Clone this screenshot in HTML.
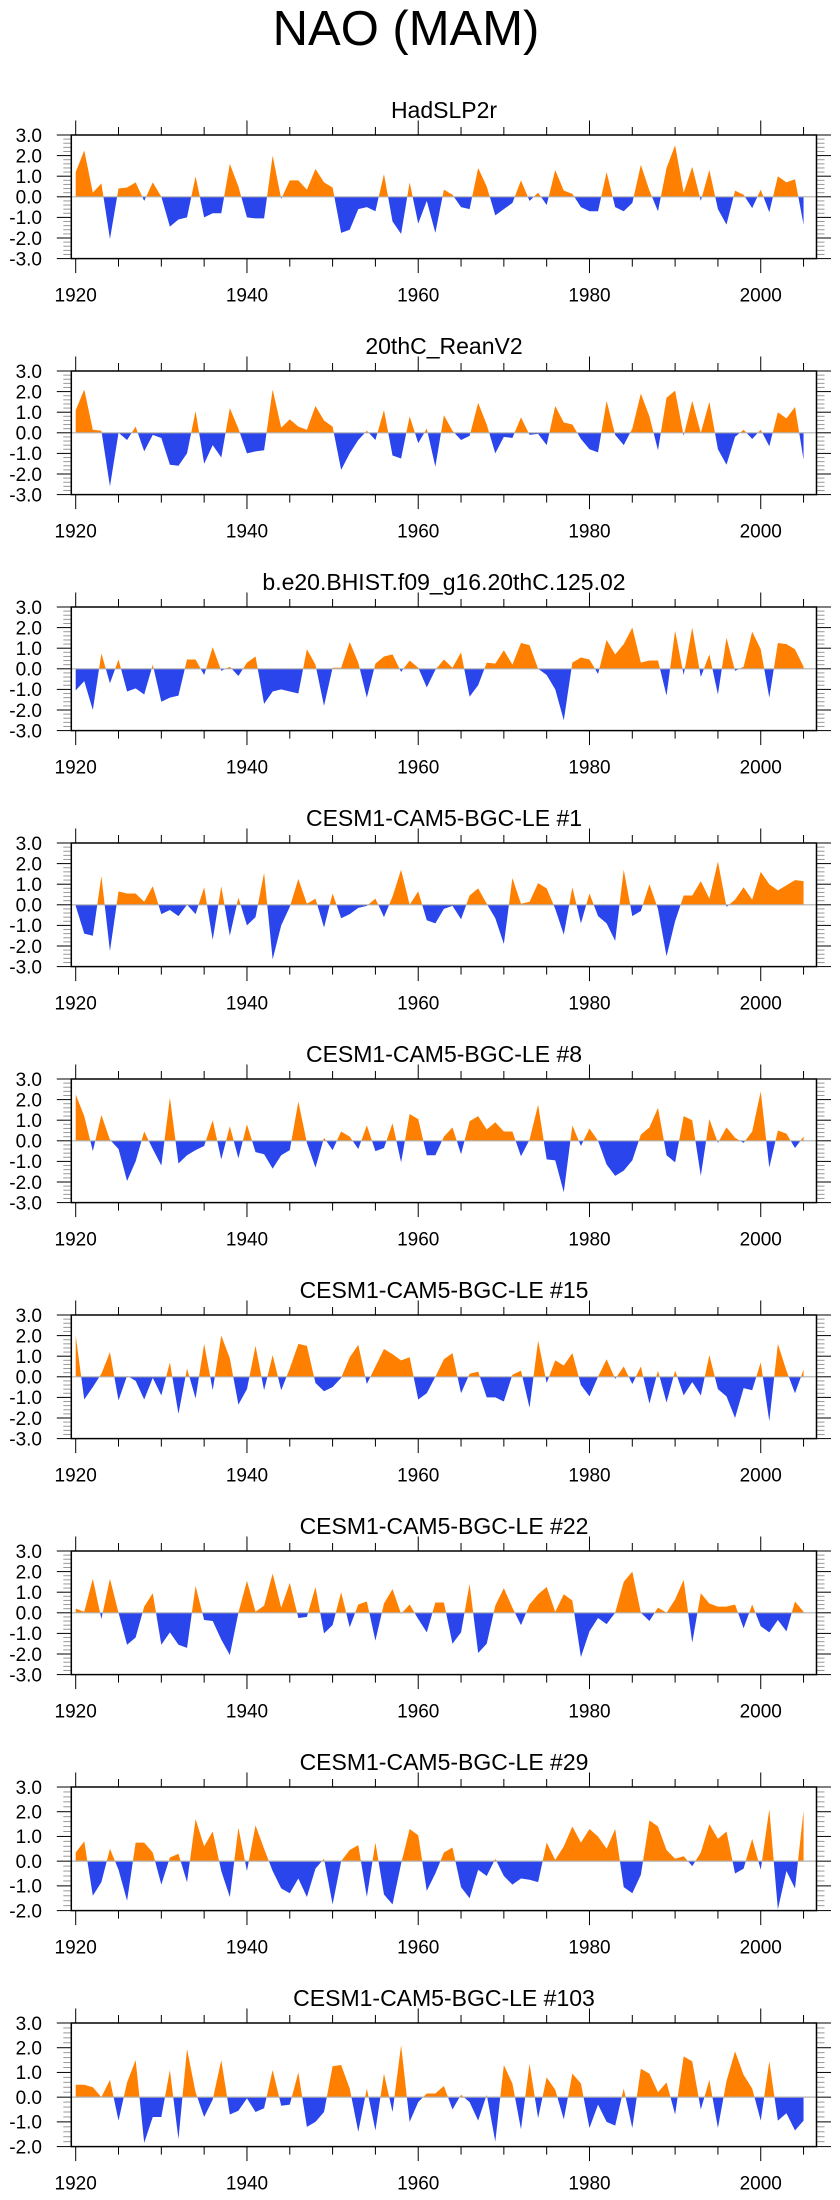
<!DOCTYPE html>
<html><head><meta charset="utf-8"><style>
body{margin:0;background:#fff;}
svg{display:block;font-family:"Liberation Sans",Arial,sans-serif;}
</style></head><body>
<svg id="fig" width="840" height="2200" viewBox="0 0 840 2200">
<text x="406" y="45" font-size="49" text-anchor="middle">NAO (MAM)</text>
</svg>
<script>
const years = [];
for (let y = 1920; y <= 2005; y++) years.push(y);
const titles = ["HadSLP2r","20thC_ReanV2","b.e20.BHIST.f09_g16.20thC.125.02","CESM1-CAM5-BGC-LE #1","CESM1-CAM5-BGC-LE #8","CESM1-CAM5-BGC-LE #15","CESM1-CAM5-BGC-LE #22","CESM1-CAM5-BGC-LE #29","CESM1-CAM5-BGC-LE #103"];
const yMins = [-3,-3,-3,-3,-3,-3,-3,-2,-2];
const yMax = 3;
const xTickLabels = [1920,1940,1960,1980,2000];
const s1 = [1.2,2.25,0.2,0.65,-2.05,0.4,0.45,0.7,-0.2,0.7,0.0,-1.45,-1.1,-1.0,1.0,-1.0,-0.8,-0.8,1.6,0.5,-1.0,-1.05,-1.05,2.0,-0.1,0.8,0.8,0.35,1.35,0.7,0.45,-1.75,-1.6,-0.6,-0.5,-0.7,1.1,-1.2,-1.8,0.7,-1.3,-0.2,-1.75,0.35,0.1,-0.5,-0.6,1.4,0.5,-0.9,-0.6,-0.3,0.8,-0.2,0.2,-0.4,1.3,0.3,0.15,-0.5,-0.7,-0.7,1.2,-0.5,-0.7,-0.3,1.55,0.3,-0.7,1.4,2.5,0.2,1.45,-0.2,1.3,-0.6,-1.35,0.3,0.1,-0.55,0.35,-0.75,1.0,0.7,0.85,-1.35];
const s2 = [1.1,2.1,0.15,0.1,-2.6,0,-0.35,0.3,-0.9,-0.1,-0.25,-1.55,-1.6,-1.0,1.05,-1.5,-0.6,-1.2,1.2,0.2,-1.0,-0.9,-0.85,2.1,0.25,0.65,0.3,0.15,1.3,0.6,0.3,-1.8,-1.0,-0.35,0.1,-0.35,1.1,-1.1,-1.25,0.8,-0.5,0.2,-1.65,0.85,0.1,-0.35,-0.15,1.45,0.4,-1.0,-0.2,-0.25,0.75,-0.1,-0.05,-0.6,1.3,0.5,0.4,-0.3,-0.8,-0.95,1.55,-0.1,-0.6,0.2,1.9,0.8,-0.85,1.7,2.05,-0.15,1.55,0,1.5,-0.8,-1.55,-0.2,0.15,-0.3,0.15,-0.65,1.0,0.7,1.25,-1.3];
const s3 = [-1.05,-0.6,-2.0,0.75,-0.7,0.45,-1.1,-0.95,-1.25,0.2,-1.6,-1.4,-1.3,0.45,0.45,-0.3,1.05,-0.1,0.1,-0.35,0.3,0.6,-1.7,-1.1,-1.0,-1.1,-1.2,0.95,0.2,-1.8,0.05,0.05,1.3,0.3,-1.4,0.25,0.6,0.7,-0.15,0.4,0.05,-0.9,-0.05,0.45,0.05,0.8,-1.35,-0.8,0.3,0.25,0.9,0.2,1.25,1.15,0.0,-0.3,-1.0,-2.5,0.3,0.55,0.45,-0.25,1.4,0.7,1.2,2.0,0.3,0.4,0.4,-1.3,1.85,-0.3,2.0,-0.4,0.7,-1.25,1.5,-0.1,0.1,1.8,0.95,-1.4,1.25,1.2,0.95,0.1];
const s4 = [-0.05,-1.4,-1.5,1.4,-2.25,0.65,0.55,0.55,0.15,0.9,-0.45,-0.25,-0.55,0.0,-0.45,0.85,-1.7,0.9,-1.5,0.35,-1.0,-0.6,1.55,-2.65,-1.0,-0.1,1.25,0.05,0.3,-1.1,0.55,-0.65,-0.45,-0.15,-0.05,0.3,-0.6,0.4,1.7,0.0,0.65,-0.75,-0.9,-0.2,-0.05,-0.7,0.45,0.8,0.05,-0.65,-1.9,1.3,0.05,0.15,1.05,0.8,-0.2,-1.45,0.85,-0.9,0.55,-0.55,-0.9,-1.75,1.7,-0.55,-0.3,1.0,-0.2,-2.5,-0.8,0.45,0.45,1.15,0.3,2.1,-0.1,0.25,0.85,0.25,1.6,1.0,0.7,0.95,1.2,1.15];
const s5 = [2.25,1.2,-0.5,1.25,0.05,-0.4,-1.95,-1.0,0.45,-0.4,-1.2,2.1,-1.1,-0.7,-0.45,-0.25,1.0,-0.9,0.7,-0.85,0.8,-0.55,-0.65,-1.35,-0.7,-0.45,1.9,-0.1,-1.3,0.15,-0.45,0.45,0.2,-0.4,0.75,-0.5,-0.35,0.85,-1.05,1.3,1.05,-0.7,-0.7,0.2,0.65,-0.65,0.95,1.2,0.55,0.9,0.45,0.45,-0.75,0.05,1.75,-0.9,-0.95,-2.5,0.75,-0.25,0.6,0.0,-1.15,-1.7,-1.45,-0.95,0.3,0.65,1.6,-0.7,-1.05,1.2,1.0,-1.7,1.05,-0.1,0.65,0.15,-0.1,0.45,2.4,-1.3,0.5,0.35,-0.35,0.2];
const s6 = [2.0,-1.1,-0.5,0.15,1.2,-1.15,0.05,-0.2,-1.1,-0.05,-0.9,0.7,-1.8,0.4,-1.05,1.6,-0.65,2.0,0.9,-1.35,-0.6,1.5,-0.65,1.05,-0.65,0.4,1.6,1.5,-0.3,-0.7,-0.5,-0.05,0.95,1.55,-0.35,0.5,1.35,1.1,0.8,0.95,-1.1,-0.8,0.0,0.85,1.15,-0.8,0.15,0.25,-1.0,-1.0,-1.2,0.1,0.3,-1.5,1.75,-0.3,0.8,0.55,1.15,-0.4,-0.95,0.0,0.85,-0.1,0.5,-0.35,0.5,-1.3,0.3,-1.25,0.3,-0.9,-0.25,-0.9,1.05,-0.6,-0.95,-2.0,-0.55,-0.65,0.7,-2.15,1.6,0.3,-0.8,0.35];
const s7 = [0.2,0.05,1.65,-0.3,1.65,0.0,-1.55,-1.2,0.3,0.95,-1.55,-0.95,-1.55,-1.7,1.3,-0.35,-0.4,-1.3,-2.05,0.0,1.55,0.05,0.35,1.9,0.25,1.45,-0.25,-0.2,1.25,-1.0,-0.6,1.0,-0.7,0.4,0.55,-1.35,0.45,1.15,-0.05,0.4,-0.3,-0.95,0.5,0.5,-1.5,-0.95,1.4,-1.95,-1.5,0.35,1.2,0.25,-0.6,0.4,0.9,1.25,0.05,0.9,0.6,-2.15,-0.9,-0.25,-0.55,0.0,1.5,2.0,0.0,-0.4,0.25,0.0,0.65,1.6,-1.45,0.95,0.45,0.3,0.3,0.4,-0.75,0.4,-0.65,-0.95,-0.35,-0.9,0.55,0.05];
const s8 = [0.35,0.8,-1.4,-0.85,0.5,-0.35,-1.6,0.75,0.75,0.35,-0.95,0.15,0.3,-0.85,1.7,0.6,1.2,-0.4,-1.45,1.35,-0.4,1.45,0.5,-0.4,-1.1,-1.3,-0.7,-1.45,-0.3,0.1,-1.75,0.0,0.45,0.65,-1.45,0.75,-1.35,-1.75,-0.1,1.3,1.05,-1.2,-0.5,0.35,0.55,-1.05,-1.5,-0.35,-0.6,0.1,-0.6,-0.95,-0.7,-0.75,-0.85,0.75,0.05,0.6,1.4,0.75,1.3,1.0,0.5,1.3,-1.05,-1.3,-0.55,1.65,1.4,0.45,0.1,0.2,-0.2,0.35,1.5,0.9,1.2,-0.5,-0.3,0.9,-0.35,2.1,-1.95,-0.4,-1.1,2.05];
const s9 = [0.5,0.5,0.4,0.0,0.7,-0.95,0.6,1.5,-1.85,-0.8,-0.8,1.1,-1.7,1.95,0.2,-0.8,-0.1,1.5,-0.7,-0.55,-0.05,-0.6,-0.45,1.1,-0.35,-0.3,1.0,-1.2,-1.0,-0.6,1.25,1.3,0.35,-1.4,0.35,-1.35,0.95,-0.6,2.1,-1.0,-0.2,0.15,0.15,0.45,-0.5,0.1,-0.2,-0.95,0.1,-1.8,1.3,0.55,-1.3,1.35,-0.85,0.8,0.3,-0.9,0.95,0.55,-1.25,-0.3,-1.0,-1.15,0.35,-1.25,1.15,0.95,0.2,0.6,-0.7,1.65,1.45,-0.5,0.7,-1.25,0.65,1.85,0.9,0.35,-0.95,1.45,-0.95,-0.65,-1.35,-0.95];
const series = [s1,s2,s3,s4,s5,s6,s7,s8,s9];

const NS = "http://www.w3.org/2000/svg";
const svg = document.getElementById("fig");
const L = 71.3, R = 816.5, H = 123.6, TOP0 = 135, STRIDE = 236;
const X0 = 75.7, XSTEP = 8.563;
function xScale(yr){ return X0 + (yr - 1920) * XSTEP; }
function mk(tag, attrs, parent){
  const e = document.createElementNS(NS, tag);
  for (const k in attrs) e.setAttribute(k, attrs[k]);
  (parent || svg).appendChild(e);
  return e;
}
series.forEach((vals, p) => {
  const top = TOP0 + STRIDE * p, bot = top + H, ymin = yMins[p];
  const yScale = v => bot - (v - ymin) / (yMax - ymin) * H;
  const y0 = yScale(0);
  const g = mk("g", {});
  
  
  const t = mk("text", {x: 444, y: top - 17, "font-size": 23, "text-anchor": "middle"}, g);
  t.textContent = titles[p];
  
  
  // clip paths
  const defs = mk("defs", {}, g);
  const cA = mk("clipPath", {id: "ca" + p}, defs);
  mk("rect", {x: L, y: top, width: R - L, height: y0 - top}, cA);
  const cB = mk("clipPath", {id: "cb" + p}, defs);
  mk("rect", {x: L, y: y0, width: R - L, height: bot - y0}, cB);
  let d = "M" + xScale(years[0]) + "," + y0;
  vals.forEach((v, i) => { d += " L" + xScale(years[i]).toFixed(2) + "," + yScale(v).toFixed(2); });
  d += " L" + xScale(years[vals.length - 1]) + "," + y0 + " Z";
  const pos = mk("path", {d: d, fill: "#ff8000", "clip-path": "url(#ca" + p + ")"}, g);
  
  
  const neg = mk("path", {d: d, fill: "#2a45ec", "clip-path": "url(#cb" + p + ")"}, g);
  
  
  const zl = mk("line", {x1: L, x2: R, y1: y0, y2: y0, stroke: "#b0b0b0", "stroke-width": 1.2}, g);
  
  
  // y ticks
  for (let k = 0; k <= (yMax - ymin) * 5; k++) {
    const v = ymin + k * 0.2, yy = yScale(v), major = k % 5 === 0;
    const len = major ? 14.5 : 8;
    mk("line", {x1: L - len, x2: L, y1: yy, y2: yy, stroke: major ? "#000" : "#999", "stroke-width": 1}, g);
    mk("line", {x1: R, x2: R + len, y1: yy, y2: yy, stroke: major ? "#000" : "#999", "stroke-width": 1}, g);
    if (major) {
      const lab = mk("text", {x: 42, y: yy + 6.8, "font-size": 19, "text-anchor": "end"}, g);
      lab.textContent = v.toFixed(1);
      
      
    }
  }
  // x ticks
  for (let yr = 1920; yr <= 2005; yr += 5) {
    const xx = xScale(yr), major = yr % 20 === 0, len = major ? 14.5 : 8;
    mk("line", {x1: xx, x2: xx, y1: top - len, y2: top, stroke: "#000", "stroke-width": 1}, g);
    mk("line", {x1: xx, x2: xx, y1: bot, y2: bot + len, stroke: "#000", "stroke-width": 1}, g);
  }
  xTickLabels.forEach(yr => {
    const lab = mk("text", {x: xScale(yr), y: bot + 43, "font-size": 19, "text-anchor": "middle"}, g);
    lab.textContent = yr;
    
    
  });
  const fr = mk("rect", {x: L, y: top, width: R - L, height: H, fill: "none", stroke: "#000", "stroke-width": 1.5}, g);
  
  
});
</script>
</body></html>
